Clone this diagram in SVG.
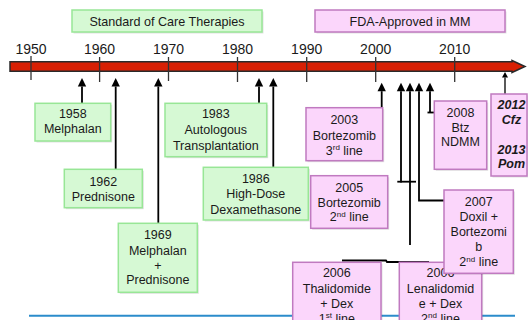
<svg xmlns="http://www.w3.org/2000/svg" width="528" height="320" viewBox="0 0 528 320">
<defs>
<style>
.t{font-family:"Liberation Sans",Arial,sans-serif;font-size:12.5px;fill:#1a1a1a;text-anchor:middle}
.yr{font-family:"Liberation Sans",Arial,sans-serif;font-size:14px;fill:#1a1a1a;text-anchor:middle}
.bi{font-weight:bold;font-style:italic}
.g{fill:#d6f9d4;stroke:#98e696;stroke-width:1.5}
.p{fill:#fbd6fb;stroke:#c07ac0;stroke-width:1.5}
.tick{stroke:#333;stroke-width:1.3}
.c{fill:none;stroke:#000;stroke-width:1.8}
.sh{fill:#000;opacity:0.12}
</style>
<marker id="ah" markerUnits="userSpaceOnUse" markerWidth="10" markerHeight="10" refX="0" refY="4.2" orient="auto" overflow="visible">
<path d="M0,0 L8.5,4.2 L0,8.4 z" fill="#000"/>
</marker>
<marker id="ahs" markerUnits="userSpaceOnUse" markerWidth="6" markerHeight="6" refX="0" refY="3" orient="auto" overflow="visible">
<path d="M0,0 L5.5,3 L0,6 z" fill="#000"/>
</marker>
</defs>
<rect width="528" height="320" fill="#fff"/>

<line x1="29" y1="315.8" x2="515" y2="315.8" stroke="#2b8ccb" stroke-width="2"/>

<g id="hdr-soc">
<rect class="sh" x="73.5" y="11.5" width="190" height="22"/>
<rect class="g" x="72" y="10" width="190" height="22"/>
<text class="t" x="167" y="26" style="font-size:12.6px">Standard of Care Therapies</text>
</g>
<g id="hdr-fda">
<rect class="sh" x="316.5" y="11.5" width="190" height="22"/>
<rect class="p" x="315" y="10" width="190" height="22"/>
<text class="t" x="410" y="26" style="font-size:12.6px">FDA-Approved in MM</text>
</g>

<g id="timeline">
<path d="M10,61.8 L512,61.8 L512,60.5 L525,66.5 L512,72.5 L512,71.2 L10,71.2 z" fill="#d82004" stroke="#2a2a2a" stroke-width="1.5"/>
<line class="tick" x1="31" y1="56" x2="31" y2="80"/>
<line class="tick" x1="99.6" y1="57" x2="99.6" y2="82"/>
<line class="tick" x1="168.5" y1="57" x2="168.5" y2="81"/>
<line class="tick" x1="237.5" y1="57" x2="237.5" y2="82"/>
<line class="tick" x1="306.7" y1="57" x2="306.7" y2="82"/>
<line class="tick" x1="375.7" y1="57" x2="375.7" y2="82"/>
<line class="tick" x1="454.7" y1="57" x2="454.7" y2="82"/>
<text class="yr" x="31" y="54.3">1950</text>
<text class="yr" x="99.6" y="54.3">1960</text>
<text class="yr" x="168.5" y="54.3">1970</text>
<text class="yr" x="237.5" y="54.3">1980</text>
<text class="yr" x="306.7" y="54.3">1990</text>
<text class="yr" x="375.7" y="54.3">2000</text>
<text class="yr" x="454.7" y="54.3">2010</text>
</g>

<g id="connectors">
<line class="c" x1="82" y1="103" x2="82" y2="86.5" marker-end="url(#ah)"/>
<line class="c" x1="115.7" y1="169.3" x2="115.7" y2="86.5" marker-end="url(#ah)"/>
<line class="c" x1="158.3" y1="223.3" x2="158.3" y2="86.5" marker-end="url(#ah)"/>
<line class="c" x1="259" y1="103.3" x2="259" y2="86.5" marker-end="url(#ah)"/>
<line class="c" x1="273.3" y1="167.3" x2="273.3" y2="86.5" marker-end="url(#ah)"/>
<line class="c" x1="381.7" y1="107.7" x2="381.7" y2="91.2" marker-end="url(#ah)"/>
<line class="c" x1="401" y1="182.5" x2="401" y2="91.2" marker-end="url(#ah)"/>
<line class="c" x1="397.3" y1="181.7" x2="416" y2="181.7"/>
<line class="c" x1="410" y1="245" x2="410" y2="91.2" marker-end="url(#ah)"/>
<polyline class="c" points="444,200.5 419,200.5 419,91.2" marker-end="url(#ah)"/>
<line class="c" x1="430" y1="112.5" x2="430" y2="91.2" marker-end="url(#ah)"/>
<line class="c" x1="427.5" y1="112.5" x2="434" y2="112.5"/>
<polyline class="c" points="342,260.5 386,260.5 387,262 429,262"/>
<line x1="505" y1="94" x2="505" y2="77.5" stroke="#000" stroke-width="1.3" marker-end="url(#ahs)"/>
</g>

<g id="n1958">
<rect class="sh" x="36.5" y="104.8" width="75.7" height="37.7"/>
<rect class="g" x="35" y="103.3" width="75.7" height="37.7"/>
<text class="t" x="72.8" y="118">1958</text>
<text class="t" x="72.8" y="133">Melphalan</text>
</g>
<g id="n1962">
<rect class="sh" x="65.8" y="170.8" width="78" height="38.4"/>
<rect class="g" x="64.3" y="169.3" width="78" height="38.4"/>
<text class="t" x="103.3" y="186">1962</text>
<text class="t" x="103.3" y="200.7">Prednisone</text>
</g>
<g id="n1969">
<rect class="sh" x="119.8" y="224.8" width="79" height="69"/>
<rect class="g" x="118.3" y="223.3" width="79" height="69"/>
<text class="t" x="157.8" y="239.3">1969</text>
<text class="t" x="157.8" y="254.5">Melphalan</text>
<text class="t" x="157.8" y="269.5">+</text>
<text class="t" x="157.8" y="284.3">Prednisone</text>
</g>
<g id="n1983">
<rect class="sh" x="166.5" y="104.8" width="101.7" height="53.4"/>
<rect class="g" x="165" y="103.3" width="101.7" height="53.4"/>
<text class="t" x="215.8" y="118.3">1983</text>
<text class="t" x="215.8" y="134">Autologous</text>
<text class="t" x="215.8" y="149.7">Transplantation</text>
</g>
<g id="n1986">
<rect class="sh" x="204.8" y="168.8" width="105" height="52.7"/>
<rect class="g" x="203.3" y="167.3" width="105" height="52.7"/>
<text class="t" x="255.8" y="182.7">1986</text>
<text class="t" x="255.8" y="198.3">High-Dose</text>
<text class="t" x="255.8" y="213.5">Dexamethasone</text>
</g>

<g id="n2003">
<rect class="sh" x="307.5" y="109.2" width="76.7" height="53"/>
<rect class="p" x="306" y="107.7" width="76.7" height="53"/>
<text class="t" x="344.3" y="124.3">2003</text>
<text class="t" x="344.3" y="139.7">Bortezomib</text>
<text class="t" x="344.3" y="154.5">3<tspan font-size="8" dy="-4.5">rd</tspan><tspan dy="4.5"> line</tspan></text>
</g>
<g id="n2005">
<rect class="sh" x="312.2" y="177.2" width="77" height="52.6"/>
<rect class="p" x="310.7" y="175.7" width="77" height="52.6"/>
<text class="t" x="349.2" y="191.7">2005</text>
<text class="t" x="349.2" y="206.7">Bortezomib</text>
<text class="t" x="349.2" y="221.3">2<tspan font-size="8" dy="-4.5">nd</tspan><tspan dy="4.5"> line</tspan></text>
</g>
<g id="n2008">
<rect class="sh" x="435.8" y="102.5" width="52.4" height="68.3"/>
<rect class="p" x="434.3" y="101" width="52.4" height="68.3"/>
<text class="t" x="460.5" y="116.7">2008</text>
<text class="t" x="460.5" y="131.7">Btz</text>
<text class="t" x="460.5" y="146.3">NDMM</text>
</g>
<g id="n2012">
<rect class="sh" x="492.5" y="95.5" width="36" height="82"/>
<rect class="p" x="491" y="94" width="36" height="82"/>
<text class="t bi" x="511.5" y="108.5">2012</text>
<text class="t bi" x="511.5" y="123.5">Cfz</text>
<text class="t bi" x="511.5" y="153.5">2013</text>
<text class="t bi" x="511.5" y="168.3">Pom</text>
</g>
<g id="n2006a">
<rect class="sh" x="294.2" y="263.8" width="88.3" height="70"/>
<rect class="p" x="292.7" y="262.3" width="88.3" height="70"/>
<text class="t" x="336.8" y="277.3">2006</text>
<text class="t" x="336.8" y="292.7">Thalidomide</text>
<text class="t" x="336.8" y="307.7">+ Dex</text>
<text class="t" x="336.8" y="322.7">1<tspan font-size="8" dy="-4.5">st</tspan><tspan dy="4.5"> line</tspan></text>
</g>
<g id="n2006b">
<rect class="sh" x="400.8" y="263.8" width="82.4" height="70"/>
<rect class="p" x="399.3" y="262.3" width="82.4" height="70"/>
<text class="t" x="440.5" y="277.3">2006</text>
<text class="t" x="440.5" y="292.7">Lenalidomid</text>
<text class="t" x="440.5" y="307.7">e + Dex</text>
<text class="t" x="440.5" y="322.7">2<tspan font-size="8" dy="-4.5">nd</tspan><tspan dy="4.5"> line</tspan></text>
</g>
<g id="n2007">
<rect class="sh" x="445.5" y="191.5" width="69.3" height="83.3"/>
<rect class="p" x="444" y="190" width="69.3" height="83.3"/>
<text class="t" x="478.7" y="206">2007</text>
<text class="t" x="478.7" y="220.7">Doxil +</text>
<text class="t" x="478.7" y="236">Bortezomi</text>
<text class="t" x="478.7" y="250.7">b</text>
<text class="t" x="478.7" y="266">2<tspan font-size="8" dy="-4.5">nd</tspan><tspan dy="4.5"> line</tspan></text>
</g>
</svg>
